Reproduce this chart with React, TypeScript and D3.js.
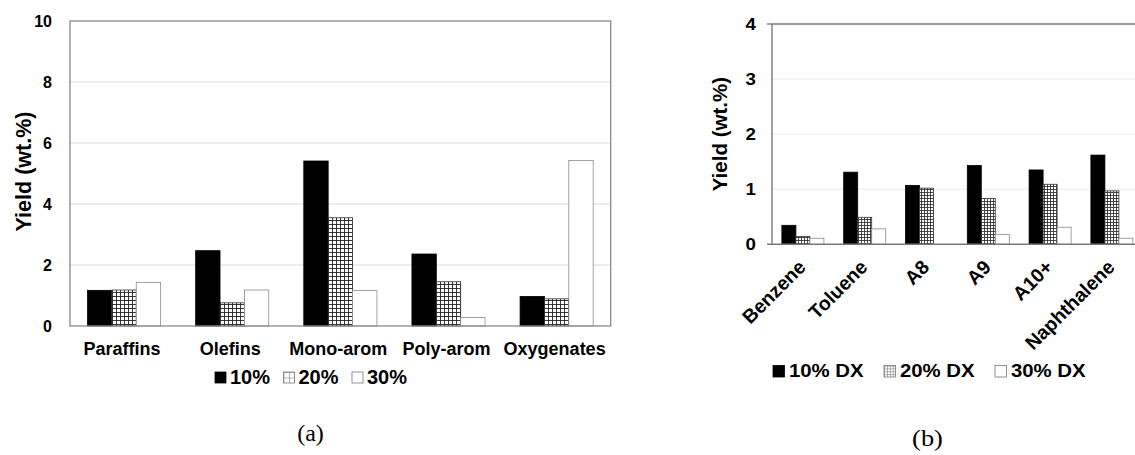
import React from "react";
import * as d3 from "d3";

// ---- data ----
const seriesA = ["10%", "20%", "30%"];
const categoriesA = ["Paraffins", "Olefins", "Mono-arom", "Poly-arom", "Oxygenates"];
const a10 = [1.17, 2.47, 5.41, 2.36, 0.97];
const a20 = [1.18, 0.76, 3.55, 1.45, 0.89];
const a30 = [1.43, 1.18, 1.16, 0.28, 5.43];
const ticksA = [0, 2, 4, 6, 8, 10];

const seriesB = ["10% DX", "20% DX", "30% DX"];
const categoriesB = ["Benzene", "Toluene", "A8", "A9", "A10+", "Naphthalene"];
const b10 = [0.345, 1.31, 1.07, 1.43, 1.35, 1.62];
const b20 = [0.14, 0.49, 1.02, 0.83, 1.09, 0.97];
const b30 = [0.11, 0.28, 0.0, 0.18, 0.31, 0.11];
const ticksB = [0, 1, 2, 3, 4];

const yTitle = "Yield (wt.%)";
const panelLabels = ["(a)", "(b)"];

const FONT = "Liberation Sans, Arial, Helvetica, sans-serif";
const SERIF = "Liberation Serif, Times New Roman, serif";

const fills = ["#000", "url(#gridA)", "#fff"];
const fillsB = ["#000", "url(#gridB)", "#fff"];
const strokes = ["#000", "#333", "#8a8a8a"];

function PanelA() {
  const left = 70, right = 610.7, top = 21, bottom = 326;
  const x = d3.scaleBand<string>().domain(categoriesA).range([left, right]).paddingInner(0.324).paddingOuter(0.162);
  const xs = d3.scaleBand<string>().domain(seriesA).range([0, x.bandwidth()]);
  const y = d3.scaleLinear().domain([0, 10]).range([bottom, top]);
  const vals = [a10, a20, a30];
  return (
    <g>
      {ticksA.filter(t => t > 0 && t < 10).map(t => (
        <line key={t} x1={left} x2={right} y1={y(t)} y2={y(t)} stroke="#d9d9d9" strokeWidth={1} />
      ))}
      {categoriesA.map((c, i) =>
        seriesA.map((s, j) => (
          <rect key={c + s} x={x(c)! + xs(s)!} y={y(vals[j][i])} width={xs.bandwidth()}
            height={y(0) - y(vals[j][i])} fill={fills[j]} stroke={strokes[j]} strokeWidth={0.8} />
        ))
      )}
      <rect x={left} y={top} width={right - left} height={bottom - top} fill="none" stroke="#8a8a8a" strokeWidth={1.3} />
      {ticksA.map(t => (
        <text key={t} x={52} y={y(t)} dy="0.35em" textAnchor="end" fontSize={16} fontWeight="bold" fontFamily={FONT}>{t}</text>
      ))}
      <text transform={`translate(23,${(top + bottom) / 2 - 2}) rotate(-90)`} textAnchor="middle" dy="0.35em"
        fontSize={21.5} fontWeight="bold" fontFamily={FONT}>{yTitle}</text>
      {categoriesA.map(c => (
        <text key={c} x={x(c)! + x.bandwidth() / 2 - 2} y={355} textAnchor="middle" fontSize={18} fontWeight="bold" fontFamily={FONT}>{c}</text>
      ))}
      {seriesA.map((s, j) => {
        const lx = 215 + j * 68.5;
        return (
          <g key={s}>
            <rect x={lx} y={372} width={11} height={11} fill={j === 1 ? "url(#gridLegA)" : fills[j]} stroke={j === 0 ? "#000" : "#777"} strokeWidth={0.8} />
            <text x={lx + 15} y={383.5} fontSize={20} fontWeight="bold" fontFamily={FONT}>{s}</text>
          </g>
        );
      })}
      <text x={310.5} y={441} textAnchor="middle" fontSize={24} fontFamily={SERIF}>{panelLabels[0]}</text>
    </g>
  );
}

function PanelB() {
  const left = 772, top = 24, bottom = 244.3;
  const step = 61.8;
  const right = left + step * categoriesB.length;
  const x = d3.scaleBand<string>().domain(categoriesB).range([left, right]).paddingInner(0.32).paddingOuter(0.16);
  const xs = d3.scaleBand<string>().domain(seriesB).range([0, x.bandwidth()]);
  const y = d3.scaleLinear().domain([0, 4]).range([bottom, top]);
  const vals = [b10, b20, b30];
  const sx = 1.1;
  return (
    <g>
      {ticksB.filter(t => t > 0 && t < 4).map(t => (
        <line key={t} x1={left} x2={right} y1={y(t)} y2={y(t)} stroke="#ececec" strokeWidth={1} />
      ))}
      {categoriesB.map((c, i) =>
        seriesB.map((s, j) => vals[j][i] > 0 ? (
          <rect key={c + s} x={x(c)! + xs(s)!} y={y(vals[j][i])} width={xs.bandwidth()}
            height={y(0) - y(vals[j][i])} fill={fillsB[j]} stroke={strokes[j]} strokeWidth={0.8} />
        ) : null)
      )}
      <line x1={left} x2={right} y1={top} y2={top} stroke="#7a7a7a" strokeWidth={1.6} />
      <line x1={left - 5} x2={right} y1={bottom} y2={bottom} stroke="#7a7a7a" strokeWidth={1.4} />
      <line x1={left} x2={left} y1={top} y2={bottom} stroke="#7a7a7a" strokeWidth={1.4} />
      <line x1={left - 5} x2={left} y1={top} y2={top} stroke="#7a7a7a" strokeWidth={1.4} />
      {ticksB.map(t => (
        <text key={t} transform={`translate(756,${y(t)}) scale(${sx},1)`} dy="0.35em" textAnchor="end" fontSize={17} fontWeight="bold" fontFamily={FONT}>{t}</text>
      ))}
      <text transform={`translate(720,${(top + bottom) / 2}) rotate(-90)`} textAnchor="middle" dy="0.35em"
        fontSize={20.5} fontWeight="bold" fontFamily={FONT}>{yTitle}</text>
      {categoriesB.map(c => (
        <text key={c} transform={`translate(${x(c)! + x.bandwidth() / 2 + 4},${bottom + 24}) rotate(-45)`} textAnchor="end"
          fontSize={19.5} fontWeight="bold" fontFamily={FONT}>{c}</text>
      ))}
      {seriesB.map((s, j) => {
        const lx = 773 + j * 111;
        return (
          <g key={s}>
            <rect x={lx} y={365.5} width={11.5} height={11.5} fill={j === 1 ? "url(#gridLegB)" : fillsB[j]} stroke={j === 0 ? "#000" : "#777"} strokeWidth={0.8} />
            <text transform={`translate(${lx + 16},377) scale(${sx},1)`} fontSize={18.5} fontWeight="bold" fontFamily={FONT}>{s}</text>
          </g>
        );
      })}
      <text transform={`translate(927.5,446) scale(1.1,1)`} textAnchor="middle" fontSize={24} fontFamily={SERIF}>{panelLabels[1]}</text>
    </g>
  );
}

export default function App() {
  return (
    <svg width={1135} height={455} style={{ position: "absolute", left: 0, top: 0, background: "#fff" }}>
      <defs>
        <pattern id="gridA" width={4} height={4} patternUnits="userSpaceOnUse">
          <rect width={4} height={4} fill="#fff" />
          <path d="M0 0.5H4M0.5 0V4" stroke="#222" strokeWidth={0.9} />
        </pattern>
        <pattern id="gridB" width={3} height={3} patternUnits="userSpaceOnUse">
          <rect width={3} height={3} fill="#fff" />
          <path d="M0 0.5H3M0.5 0V3" stroke="#222" strokeWidth={0.8} />
        </pattern>
        <pattern id="gridLegA" width={5.5} height={5.5} patternUnits="userSpaceOnUse" x={215 + 68.5} y={372}>
          <rect width={5.5} height={5.5} fill="#fff" />
          <path d="M0 0H5.5M0 0V5.5" stroke="#666" strokeWidth={1} />
        </pattern>
        <pattern id="gridLegB" width={2.9} height={2.9} patternUnits="userSpaceOnUse" x={884} y={365.5}>
          <rect width={2.9} height={2.9} fill="#fff" />
          <path d="M0 0H2.9M0 0V2.9" stroke="#444" strokeWidth={0.8} />
        </pattern>
      </defs>
      <rect width={1135} height={455} fill="#fff" />
      <PanelA />
      <PanelB />
    </svg>
  );
}
